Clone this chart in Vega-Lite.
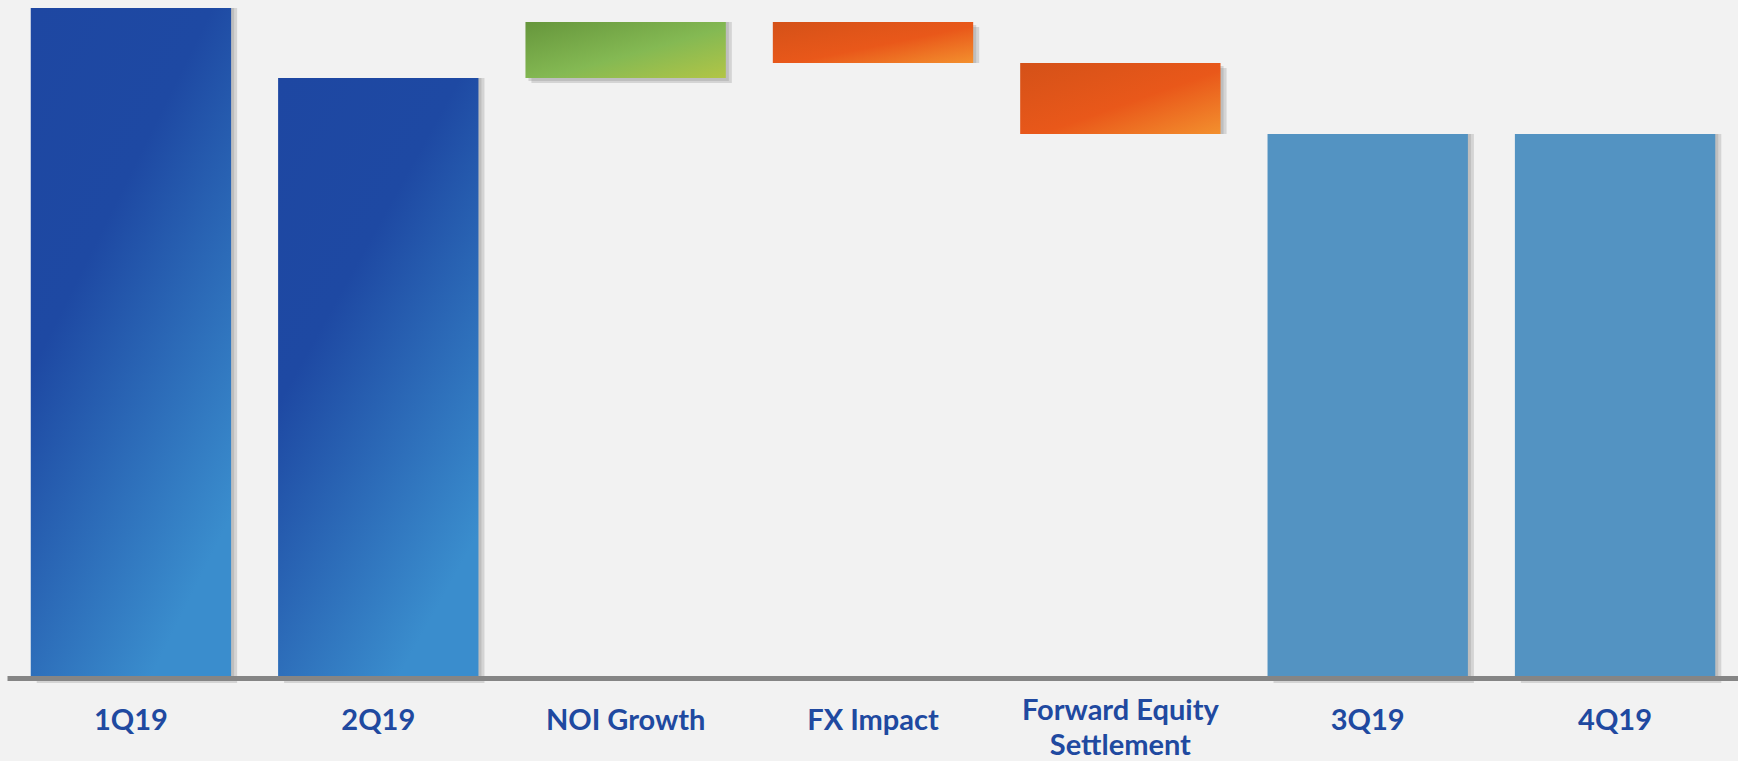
{
  "$schema": "https://vega.github.io/schema/vega-lite/v6.json",
  "autosize": "none",
  "width": 1732,
  "height": 678,
  "padding": {"left": 7, "top": 0, "right": 0, "bottom": 83},
  "background": "#F2F2F2",
  "config": {"view": {"stroke": null}},
  "data": {"values": [
    {"cat": "1Q19", "start": 0, "end": 6.70, "kind": "dark"},
    {"cat": "2Q19", "start": 0, "end": 6.00, "kind": "dark"},
    {"cat": "NOI Growth", "start": 6.00, "end": 6.56, "kind": "up"},
    {"cat": "FX Impact", "start": 6.56, "end": 6.15, "kind": "down"},
    {"cat": "Forward Equity Settlement", "start": 6.15, "end": 5.44, "kind": "down"},
    {"cat": "3Q19", "start": 0, "end": 5.44, "kind": "light"},
    {"cat": "4Q19", "start": 0, "end": 5.44, "kind": "light"}
  ]},
  "encoding": {
    "x": {"field": "cat", "type": "nominal", "sort": null,
      "scale": {"paddingInner": 0.19, "paddingOuter": 0.096},
      "axis": {"title": null, "ticks": false, "domainColor": "#858585", "domainWidth": 5, "zindex": 1,
        "labelAngle": 0, "labelFont": "Lato", "labelFontWeight": "bold", "labelFontSize": 29,
        "labelColor": "#2049A0", "labelBaseline": "middle", "labelLineHeight": 35,
        "labelPadding": {"condition": {"test": "datum.value == 'Forward Equity Settlement'", "value": 32}, "value": 42},
        "labelLimit": 400,
        "labelExpr": "datum.label == 'Forward Equity Settlement' ? ['Forward Equity', 'Settlement'] : datum.label"}},
    "y": {"field": "start", "type": "quantitative", "scale": {"domain": [0, 6.78], "nice": false}, "axis": null},
    "y2": {"field": "end"}
  },
  "layer": [
    {"mark": {"type": "bar", "fill": "#7a7a7a", "opacity": 0.25, "xOffset": 6, "yOffset": 5}},
    {"mark": {"type": "bar", "fill": "#8a8a8a", "opacity": 0.3, "xOffset": 3, "yOffset": 3}},
    {"transform": [{"filter": "datum.kind == 'dark'"}],
     "mark": {"type": "bar", "fill": {"gradient": "linear", "x1": 0, "y1": 0, "x2": 0.6, "y2": 1,
        "stops": [{"offset": 0, "color": "#1E47A2"}, {"offset": 0.4, "color": "#1E49A3"}, {"offset": 1, "color": "#3A8DCD"}]}}},
    {"transform": [{"filter": "datum.kind == 'up'"}],
     "mark": {"type": "bar", "fill": {"gradient": "linear", "x1": 0, "y1": 0, "x2": 1, "y2": 1,
        "stops": [{"offset": 0, "color": "#66963C"}, {"offset": 0.55, "color": "#84B953"}, {"offset": 1, "color": "#B2C546"}]}}},
    {"transform": [{"filter": "datum.kind == 'down'"}],
     "mark": {"type": "bar", "fill": {"gradient": "linear", "x1": 0, "y1": 0, "x2": 1, "y2": 1,
        "stops": [{"offset": 0, "color": "#D45118"}, {"offset": 0.55, "color": "#E9581A"}, {"offset": 1, "color": "#F3902E"}]}}},
    {"transform": [{"filter": "datum.kind == 'light'"}],
     "mark": {"type": "bar", "fill": "#5393C2"}}
  ]
}
